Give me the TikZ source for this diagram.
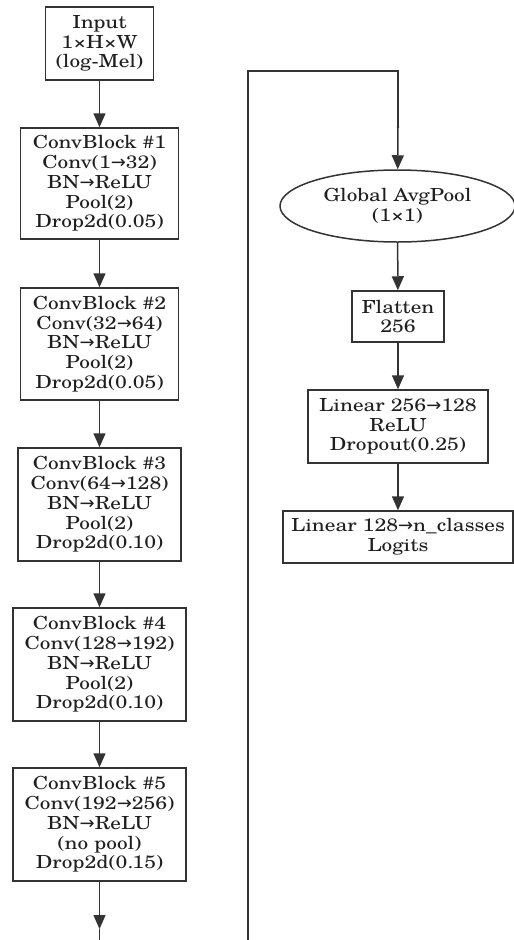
\documentclass[tikz,border=0pt]{standalone}
\usepackage{fontspec}
\setmainfont[FakeStretch=1.18]{TeX Gyre Schola}
\newfontfamily\arrowfont{DejaVu Sans}
\newcommand{\rarr}{{\arrowfont\fontsize{18}{18}\selectfont →}}
\usetikzlibrary{shapes.geometric,arrows.meta}
\begin{document}
\begin{tikzpicture}[x=1pt,y=-1pt,
  lbl/.style={font=\fontsize{18}{19.7}\selectfont, align=center, text=black!88, inner sep=0pt},
  box/.style={lbl, draw=black!80, line width=1.5pt, rectangle},
  oval/.style={lbl, draw=black!80, line width=1.5pt, ellipse},
  link/.style={draw=black!80, line width=1.5pt, -{Triangle[length=14pt,width=12pt]}},
  plain/.style={draw=black!80, line width=1.5pt}
 ]
\useasboundingbox (0,0) rectangle (514,940);
% left column
\node[box, minimum width=108pt, minimum height=73pt] (in) at (99.5,43.5) {Input\\1×H×W\\(log-Mel)};
\node[box, minimum width=158pt, minimum height=111pt] (cb1) at (99.5,183.5) {ConvBlock \#1\\Conv(1\rarr32)\\BN\rarr ReLU\\Pool(2)\\Drop2d(0.05)};
\node[box, minimum width=158pt, minimum height=112pt] (cb2) at (99.5,344) {ConvBlock \#2\\Conv(32\rarr64)\\BN\rarr ReLU\\Pool(2)\\Drop2d(0.05)};
\node[box, minimum width=163pt, minimum height=113pt] (cb3) at (99.5,504.5) {ConvBlock \#3\\Conv(64\rarr128)\\BN\rarr ReLU\\Pool(2)\\Drop2d(0.10)};
\node[box, minimum width=173pt, minimum height=113pt] (cb4) at (99.5,664.5) {ConvBlock \#4\\Conv(128\rarr192)\\BN\rarr ReLU\\Pool(2)\\Drop2d(0.10)};
\node[box, minimum width=173pt, minimum height=113pt] (cb5) at (99.5,824.5) {ConvBlock \#5\\Conv(192\rarr256)\\BN\rarr ReLU\\(no pool)\\Drop2d(0.15)};
\coordinate (bot) at (99.5,929);
\coordinate (botend) at (99.5,940);
% right column
\node[oval, minimum width=235pt, minimum height=72pt] (gap) at (397.5,206) {Global AvgPool\\(1×1)};
\node[box, minimum width=92pt, minimum height=51pt] (flat) at (398,316.5) {Flatten\\256};
\node[box, minimum width=180pt, minimum height=73pt] (lin1) at (398,426.5) {Linear 256\rarr128\\ReLU\\Dropout(0.25)};
\node[box, minimum width=230pt, minimum height=52pt] (lin2) at (398,537) {Linear 128\rarr n\_classes\\Logits};
\coordinate (rb) at (248,940);
\coordinate (rt) at (248,71);
\coordinate (rr) at (398,71);
\coordinate (pt) at (398,127);
% connectors
\draw[link] (in) -- (cb1);
\draw[link] (cb1) -- (cb2);
\draw[link] (cb2) -- (cb3);
\draw[link] (cb3) -- (cb4);
\draw[link] (cb4) -- (cb5);
\draw[link] (cb5) -- (bot);
\draw[plain] (bot) -- (botend);
\draw[plain] (rb) -- (rt) -- (rr) -- (pt);
\fill[black!80] (pt) circle (1.3pt);
\draw[link] (pt) -- (gap);
\draw[link] (gap) -- (flat);
\draw[link] (flat) -- (lin1);
\draw[link] (lin1) -- (lin2);
\end{tikzpicture}
\end{document}
